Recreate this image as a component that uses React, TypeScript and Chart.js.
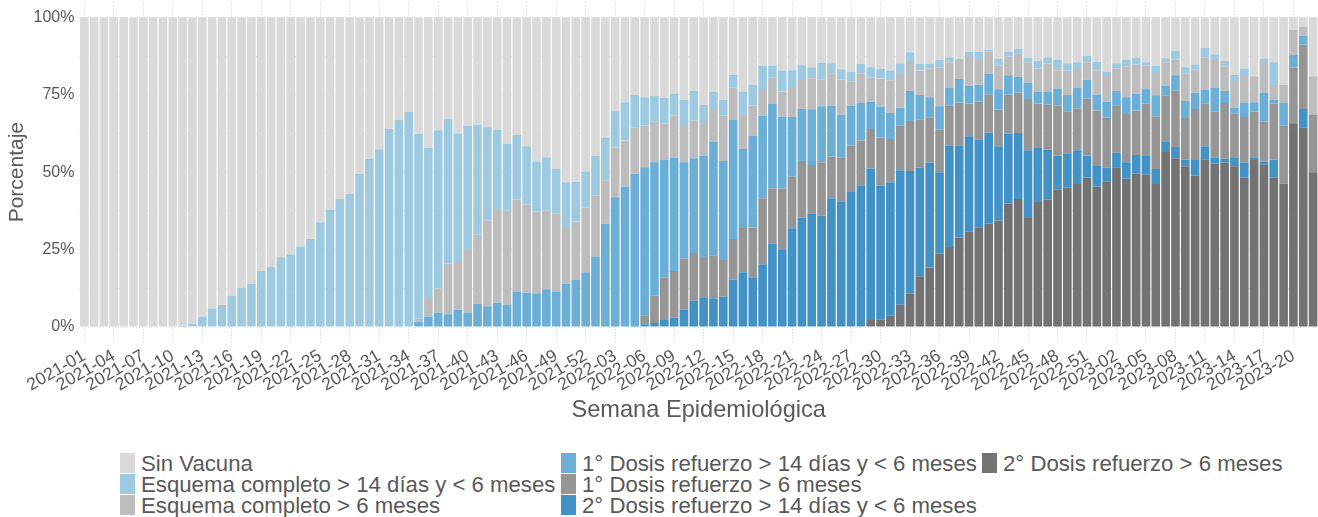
import React, { useEffect, useRef } from "react";
import { Chart, registerables } from "chart.js";

Chart.register(...registerables);

const weeks2021 = [
  "2021-01","2021-02","2021-03","2021-04","2021-05","2021-06","2021-07","2021-08","2021-09","2021-10",
  "2021-11","2021-12","2021-13","2021-14","2021-15","2021-16","2021-17","2021-18","2021-19","2021-20",
  "2021-21","2021-22","2021-23","2021-24","2021-25","2021-26","2021-27","2021-28","2021-29","2021-30",
  "2021-31","2021-32","2021-33","2021-34","2021-35","2021-36","2021-37","2021-38","2021-39","2021-40",
  "2021-41","2021-42","2021-43","2021-44","2021-45","2021-46","2021-47","2021-48","2021-49","2021-50",
  "2021-51","2021-52",
];
const weeks2022 = [
  "2022-01","2022-02","2022-03","2022-04","2022-05","2022-06","2022-07","2022-08","2022-09","2022-10",
  "2022-11","2022-12","2022-13","2022-14","2022-15","2022-16","2022-17","2022-18","2022-19","2022-20",
  "2022-21","2022-22","2022-23","2022-24","2022-25","2022-26","2022-27","2022-28","2022-29","2022-30",
  "2022-31","2022-32","2022-33","2022-34","2022-35","2022-36","2022-37","2022-38","2022-39","2022-40",
  "2022-41","2022-42","2022-43","2022-44","2022-45","2022-46","2022-47","2022-48","2022-49","2022-50",
  "2022-51","2022-52",
];
const weeks2023 = [
  "2023-01","2023-02","2023-03","2023-04","2023-05","2023-06","2023-07","2023-08","2023-09","2023-10",
  "2023-11","2023-12","2023-13","2023-14","2023-15","2023-16","2023-17","2023-18","2023-19","2023-20",
  "2023-21","2023-22",
];
const weeks = [...weeks2021, ...weeks2022, ...weeks2023];

// Series values (% of cases), one per week
const segundaRefuerzo6m = [
  0,0,0,0,0,0,0,0,0,0, 0,0,0,0,0,0,0,0,0,0, 0,0,0,0,0,0,0,0,0,0,
  0,0,0,0,0,0,0,0,0,0, 0,0,0,0,0,0,0,0,0,0, 0,0,0,0,0,0,0,0,0,0,
  0,0,0,0,0,0,0,0,0,0, 0,0,0,0,0,0,0,0,0,0.2,
  2.3,2.5,3.8,7.2,10.8,16.4,19.2,23.7,25.8,28.9,
  30.9,32.2,33.4,34.4,39.9,41.3,35.2,40.4,41.1,44.5,
  45.0,46.2,48.3,45.3,47.1,51.6,47.9,49.5,49.2,46.2,
  56.5,54.5,51.9,48.8,54.2,52.8,53.1,51.9,48.3,53.9,
  52.4,48.2,46.3,65.8,64.5,50.0,
];
const segundaRefuerzo14d = [
  0,0,0,0,0,0,0,0,0,0, 0,0,0,0,0,0,0,0,0,0, 0,0,0,0,0,0,0,0,0,0,
  0,0,0,0,0,0,0,0,0,0, 0,0,0,0,0,0,0,0,0,0, 0,0,0,0,0,0,
  0.5,0.9,1.3,2.3,
  3.1,5.6,8.5,9.4,9.3,9.8,15.3,17.7,16.1,20.3,
  27.0,25.1,31.9,35.3,36.7,36.0,41.6,40.6,43.6,45.3,
  48.9,43.2,42.9,43.4,39.6,35.1,33.9,26.3,32.7,29.8,
  30.7,28.4,29.3,24.0,22.5,21.3,21.9,17.4,16.2,10.9,
  11.1,10.9,7.1,6.7,4.3,4.7,5.3,6.0,6.0,4.8,
  3.5,3.6,2.2,5.1,4.2,2.0,1.2,2.9,4.7,0.7,
  1.0,5.9,0,0,5.9,0,
];
const primeraRefuerzo6m = [
  0,0,0,0,0,0,0,0,0,0, 0,0,0,0,0,0,0,0,0,0, 0,0,0,0,0,0,0,0,0,0,
  0,0,0,0,0,0,0,0,0,0, 0,0,0,0,0,0,0,0,0,0, 0,0,0,0,0,0,0,
  2.9,8.8,13.8,
  15.0,16.4,15.4,12.9,13.9,11.8,13.1,14.3,16.0,21.3,
  17.8,19.7,16.6,18.3,15.6,17.2,13.4,14.2,14.9,14.7,
  12.7,15.4,14.0,14.4,16.1,15.6,14.6,13.8,12.9,13.7,
  10.6,12.1,12.3,11.8,12.6,13.0,16.5,14.4,14.5,16.0,
  13.6,13.5,18.3,17.9,16.2,15.3,15.6,14.3,16.9,17.0,
  14.8,18.2,13.4,16.5,13.7,14.9,18.0,14.2,14.8,14.9,
  13.0,18.0,18.8,18.0,20.7,18.6,
];
const primeraRefuerzo14d = [
  0,0,0,0,0,0,0,0,0,0, 0,0,0,0,0,0,0,0,0,0, 0,0,0,0,0,0,0,0,0,0,
  0,0,0,0.2,1.7,3.4,4.7,4.1,5.6,4.7,
  7.5,6.7,7.8,7.3,11.5,11.1,10.9,12.2,11.5,13.9,
  15.2,17.7,22.8,33.3,41.9,45.4,49.0,47.8,43.1,37.8,
  36.5,31.2,30.6,33.0,36.5,32.0,38.4,25.5,29.6,26.5,
  27.2,23.1,19.3,16.9,18.0,18.1,16.4,13.8,12.9,12.1,
  8.8,10.1,8.4,5.8,9.7,7.8,6.5,7.5,5.8,7.7,
  5.8,5.5,6.7,6.6,6.3,5.1,5.3,3.8,4.1,5.6,
  5.2,6.6,6.1,5.2,5.1,4.6,5.4,5.5,4.7,6.8,
  3.0,5.0,5.5,5.2,4.4,7.6,3.9,1.9,4.7,3.1,
  9.2,1.3,7.2,4.0,2.9,0,
];
const esquema6m = [
  0,0,0,0,0,0,0,0,0,0, 0,0,0,0,0,0,0,0,0,0, 0,0,0,0,0,0,0,0,0,0,
  0,0,0,0,1.0,6.3,7.8,16.5,15.4,20.2,
  22.3,27.6,30.0,30.2,29.7,28.4,26.3,25.3,25.2,18.1,
  18.9,21.0,19.7,14.1,16.1,14.8,14.8,13.5,13.1,11.7,
  13.6,12.0,12.1,11.2,10.7,14.6,10.6,10.6,9.7,8.4,
  8.5,8.1,9.4,9.6,10.0,8.7,10.4,11.4,7.8,9.6,
  7.9,9.0,10.6,10.9,9.7,7.9,9.2,12.4,8.3,6.1,
  9.5,8.0,7.2,7.6,6.0,7.7,6.6,7.5,9.2,5.9,
  7.8,6.1,5.7,7.8,8.7,7.3,10.0,9.4,7.6,7.2,
  7.7,5.1,8.9,7.5,10.4,8.9,8.0,8.5,8.9,8.4,
  10.3,4.7,5.8,8.1,3.0,12.4,
];
const esquema14d = [
  0,0,0,0,0,0,0,0,0,0,
  0.1,1.0,3.4,6.0,7.1,10.1,12.6,14.0,18.1,19.4,
  22.5,23.5,26.0,28.4,33.8,37.9,41.3,43.0,49.4,54.3,
  57.4,63.9,66.9,69.3,59.6,48.2,51.0,46.5,41.5,40.1,
  35.6,30.2,25.9,21.6,20.8,18.9,16.2,17.3,14.3,14.7,
  12.7,11.5,12.8,13.8,11.7,12.4,10.6,9.1,8.3,8.4,
  7.2,8.2,9.7,5.2,5.6,5.1,4.0,7.9,6.7,7.8,
  3.9,6.8,5.7,4.4,3.6,5.3,3.4,3.2,3.1,3.0,
  3.3,3.2,3.1,3.4,2.8,2.1,1.5,2.5,1.6,0.4,
  1.3,2.6,0.5,2.1,1.5,1.5,1.5,2.4,2.0,3.3,
  2.5,2.2,2.1,2.7,1.1,1.7,2.0,2.3,1.1,2.3,
  1.3,2.7,2.0,1.7,3.2,1.9,1.7,2.0,2.1,0,
  0.8,7.4,0,0,0,0,
];
const sinVacuna = [
  100,100,100,100,100,100,100,100,100,100,
  99.9,99.0,96.6,94.0,92.9,89.9,87.4,86.0,81.9,80.6,
  77.5,76.5,74.0,71.6,66.2,62.1,58.7,57.0,50.6,45.7,
  42.6,36.1,33.1,30.5,37.7,42.1,36.5,32.9,37.5,35.0,
  34.6,35.5,36.3,40.9,38.0,41.6,46.6,45.2,49.0,53.3,
  53.2,49.8,44.7,38.8,30.3,27.4,25.1,25.8,25.4,26.0,
  24.6,26.6,23.7,28.3,24.0,26.7,18.6,24.0,21.9,15.7,
  15.6,17.2,17.1,15.5,16.1,14.7,14.8,16.8,17.7,15.1,
  16.1,16.6,17.2,14.9,11.3,15.1,15.1,13.8,12.9,13.4,
  11.2,11.2,10.6,13.5,11.2,10.1,13.0,14.1,12.9,13.8,
  14.8,14.5,12.4,14.4,17.5,14.8,13.8,13.0,14.5,15.7,
  13.2,10.9,16.1,15.2,9.9,11.9,14.1,18.6,16.5,19.0,
  13.3,14.5,21.9,4.1,3.0,19.0,
];

const seriesNames = [
  "2° Dosis refuerzo > 6 meses",
  "2° Dosis refuerzo > 14 días y < 6 meses",
  "1° Dosis refuerzo > 6 meses",
  "1° Dosis refuerzo > 14 días y < 6 meses",
  "Esquema completo > 6 meses",
  "Esquema completo > 14 días y < 6 meses",
  "Sin Vacuna",
];
const seriesColors = ["#737373", "#4292c6", "#969696", "#6baed6", "#bdbdbd", "#9ecae1", "#d9d9d9"];
const seriesValues = [
  segundaRefuerzo6m,
  segundaRefuerzo14d,
  primeraRefuerzo6m,
  primeraRefuerzo14d,
  esquema6m,
  esquema14d,
  sinVacuna,
];
const yGridValues = [0, 12.5, 25, 37.5, 50, 62.5, 75, 87.5, 100];

// legend order: column-major, 3 rows
const legendColumns = [
  [6, 5, 4],
  [3, 2, 1],
  [0],
];
const legendColumnLeft = [120, 561, 982];

const FONT = "'Liberation Sans', Arial, Helvetica, sans-serif";
const TEXT = "#595959";

const zeroPad = (s: any) => {
  s.paddingLeft = 0;
  s.paddingRight = 0;
  s.paddingTop = 0;
  s.paddingBottom = 0;
};

export default function App() {
  const ref = useRef<HTMLCanvasElement | null>(null);
  useEffect(() => {
    if (!ref.current) return;
    const chart = new Chart(ref.current, {
      type: "bar",
      data: {
        labels: weeks,
        datasets: seriesValues.map((vals, k) => ({
          label: seriesNames[k],
          data: vals,
          backgroundColor: seriesColors[k],
          borderWidth: 0,
          barPercentage: 0.88,
          categoryPercentage: 1,
        })),
      },
      options: {
        animation: false,
        responsive: false,
        maintainAspectRatio: false,
        layout: { padding: { top: 1.8, left: 0, right: 0, bottom: 0 } },
        plugins: { legend: { display: false }, tooltip: { enabled: false } },
        scales: {
          x: {
            stacked: true,
            offset: true,
            grid: {
              offset: false,
              drawTicks: false,
              lineWidth: 1,
              color: (ctx: any) => (ctx.index % 3 === 0 ? "#cfcfcf" : "rgba(0,0,0,0)"),
            },
            border: { display: false, dash: [1, 2] },
            ticks: {
              autoSkip: false,
              minRotation: 30,
              maxRotation: 30,
              padding: 3,
              color: TEXT,
              font: { family: FONT, size: 17.5 },
              callback: (_v: any, i: number) => (i % 3 === 0 ? weeks[i] : ""),
            },
            title: {
              display: true,
              text: "Semana Epidemiológica",
              color: TEXT,
              font: { family: FONT, size: 23.6 },
              padding: { top: 0, bottom: 15 },
            },
            afterFit: (s: any) => {
              s.height = 97.5;
              zeroPad(s);
            },
          },
          y: {
            stacked: true,
            min: -5,
            max: 105,
            afterBuildTicks: (axis: any) => {
              axis.ticks = yGridValues.map((v) => ({ value: v }));
            },
            grid: { drawTicks: false, color: "#e6e6e6", lineWidth: 1 },
            border: { display: false, dash: [1, 2] },
            ticks: {
              padding: 5,
              color: TEXT,
              font: { family: FONT, size: 16 },
              callback: (v: any) => (Number(v) % 25 === 0 ? `${v}%` : ""),
            },
            title: {
              display: true,
              text: "Porcentaje",
              color: TEXT,
              font: { family: FONT, size: 21 },
              padding: { top: 5, bottom: 0 },
            },
            afterFit: (s: any) => {
              s.width = 79.4;
              zeroPad(s);
            },
          },
        },
      },
    });
    return () => chart.destroy();
  }, []);

  return (
    <div style={{ position: "absolute", left: 0, top: 0, width: 1318, height: 517, background: "#fff" }}>
      <canvas ref={ref} width={1318} height={440} style={{ display: "block", width: 1318, height: 440 }} />
      {legendColumns.map((col, c) =>
        col.map((k, r) => (
          <div
            key={`${c}-${r}`}
            style={{
              position: "absolute",
              left: legendColumnLeft[c],
              top: 452.5 + r * 21,
              height: 21,
              display: "flex",
              alignItems: "center",
              whiteSpace: "nowrap",
              fontFamily: FONT,
              fontSize: 22.2,
              lineHeight: "21px",
              color: TEXT,
            }}
          >
            <span style={{ display: "inline-block", width: 15, height: 20, background: seriesColors[k] }} />
            <span style={{ marginLeft: 6 }}>{seriesNames[k]}</span>
          </div>
        ))
      )}
    </div>
  );
}
